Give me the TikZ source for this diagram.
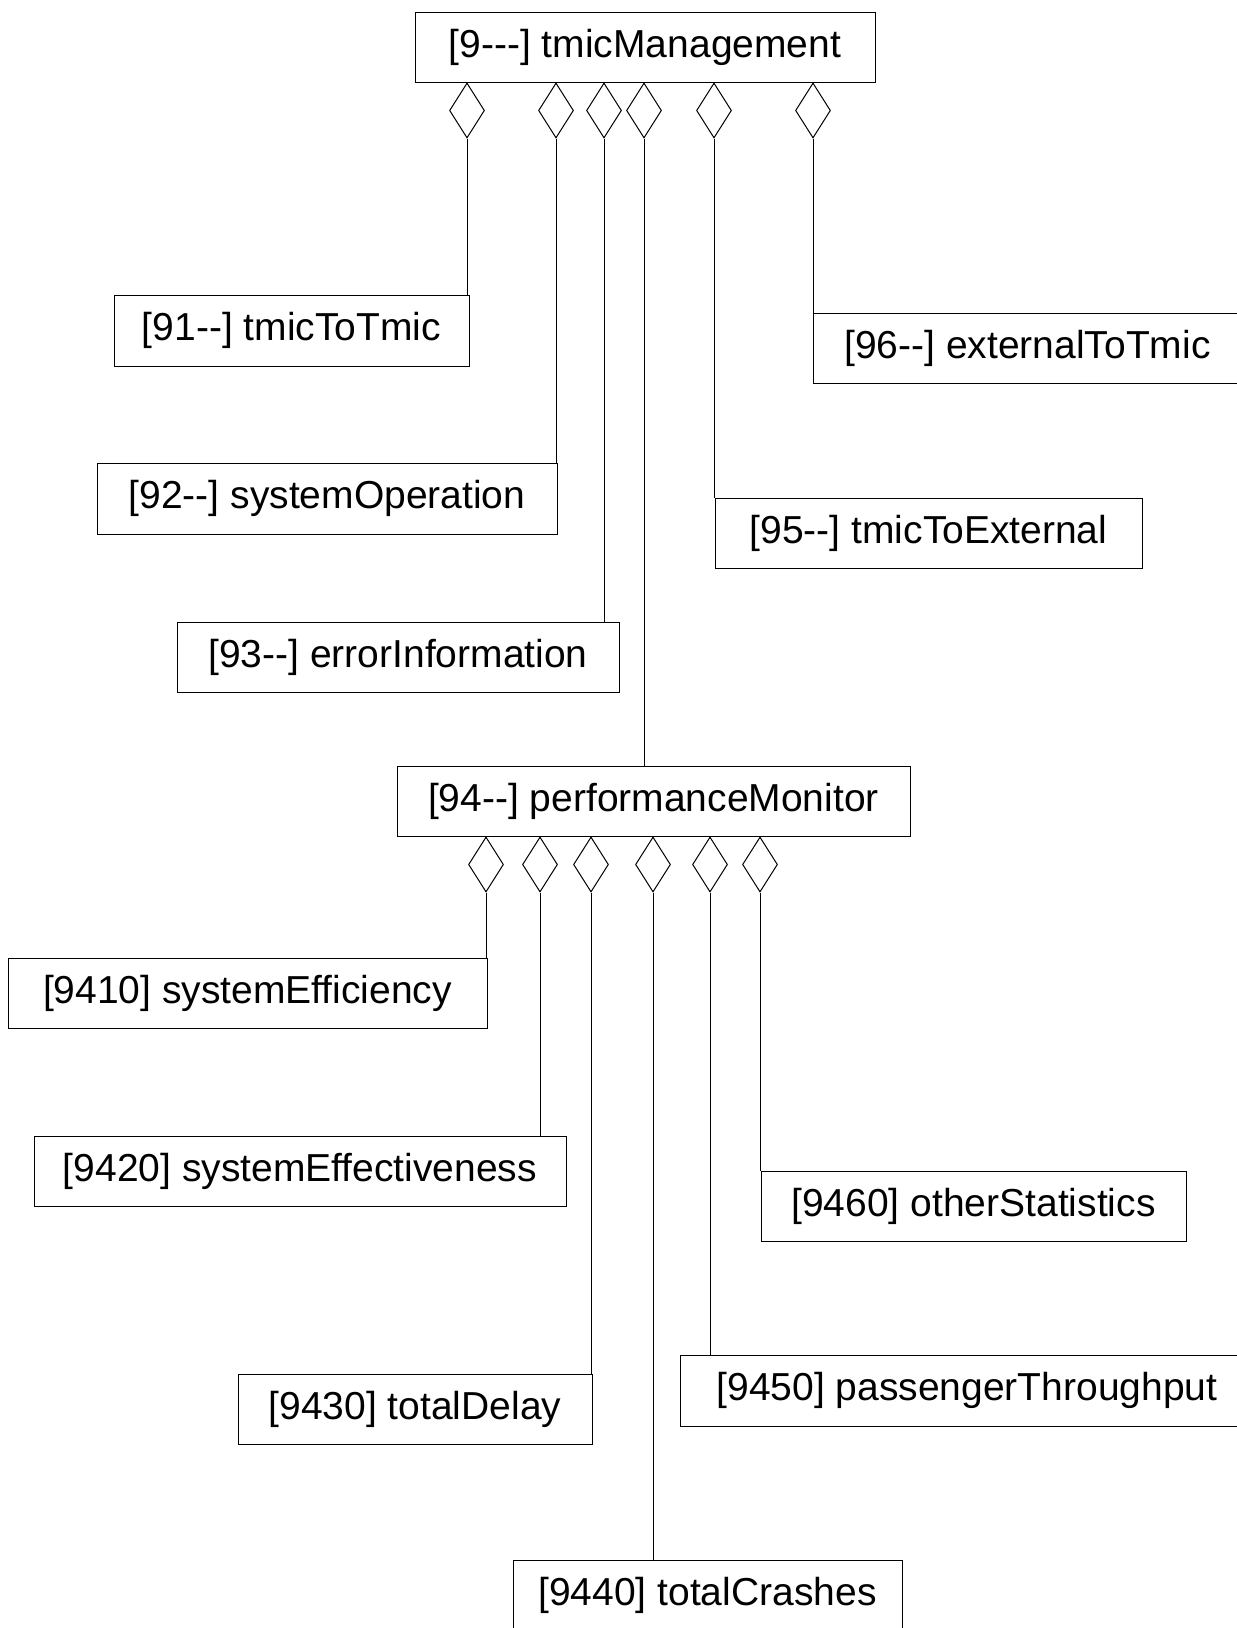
\documentclass[tikz,border=0pt]{standalone}
\usepackage{fontspec}
\setmainfont{Liberation Sans}
\usetikzlibrary{shapes.geometric}
\begin{document}
\begin{tikzpicture}[x=1pt,y=-1pt,
  box/.style={draw, line width=1pt, inner sep=0pt, font=\fontsize{39}{47}\selectfont},
  agg/.style={draw, diamond, fill=white, line width=1pt, inner sep=0pt,
              minimum width=35pt, minimum height=55pt, anchor=north},
  link/.style={line width=1pt}]
\useasboundingbox (0,0) rectangle (1237,1628);
\fill[white] (0,0) rectangle (1237,1628);
\clip (0,0) rectangle (1237,1628);
% boxes
\node[box, minimum width=460pt, minimum height=70pt] (n9) at (645,47) {[9-{}-{}-] tmicManagement};
\node[box, minimum width=355pt, minimum height=71pt] (n91) at (291.5,330.5) {[91-{}-] tmicToTmic};
\node[box, minimum width=460pt, minimum height=71pt] (n92) at (327,498.5) {[92-{}-] systemOperation};
\node[box, minimum width=442pt, minimum height=70pt] (n93) at (398,657) {[93-{}-] errorInformation};
\node[box, minimum width=513pt, minimum height=70pt] (n94) at (653.5,801) {[94-{}-] performanceMonitor};
\node[box, minimum width=427pt, minimum height=70pt] (n95) at (928.5,533.5) {[95-{}-] tmicToExternal};
\node[box, minimum width=429pt, minimum height=70pt] (n96) at (1027.5,348) {[96-{}-] externalToTmic};
\node[box, minimum width=479pt, minimum height=70pt] (n9410) at (247.5,993.5) {[9410] systemEfficiency};
\node[box, minimum width=532pt, minimum height=70pt] (n9420) at (300,1171) {[9420] systemEffectiveness};
\node[box, minimum width=354pt, minimum height=70pt] (n9430) at (415,1409) {[9430] totalDelay};
\node[box, minimum width=389pt, minimum height=70pt] (n9440) at (707.5,1595) {[9440] totalCrashes};
\node[box, minimum width=574pt, minimum height=71pt] (n9450) at (967,1390.5) {[9450] passengerThroughput};
\node[box, minimum width=425pt, minimum height=70pt] (n9460) at (973.5,1206) {[9460] otherStatistics};
% aggregation diamonds under tmicManagement
\node[agg] (a91) at (n9.south -| 467,0) {};
\node[agg] (a92) at (n9.south -| 556,0) {};
\node[agg] (a93) at (n9.south -| 604,0) {};
\node[agg] (a94) at (n9.south -| 644,0) {};
\node[agg] (a95) at (n9.south -| 714,0) {};
\node[agg] (a96) at (n9.south -| 813,0) {};
% aggregation diamonds under performanceMonitor
\node[agg] (a9410) at (n94.south -| 486,0) {};
\node[agg] (a9420) at (n94.south -| 540,0) {};
\node[agg] (a9430) at (n94.south -| 591,0) {};
\node[agg] (a9440) at (n94.south -| 653,0) {};
\node[agg] (a9450) at (n94.south -| 710,0) {};
\node[agg] (a9460) at (n94.south -| 760,0) {};
% connectors
\foreach \k in {91,92,93,94,95,96,9410,9420,9430,9440,9450,9460}
  \draw[link] (a\k.south) -- (a\k.south |- n\k.north);
\end{tikzpicture}
\end{document}
